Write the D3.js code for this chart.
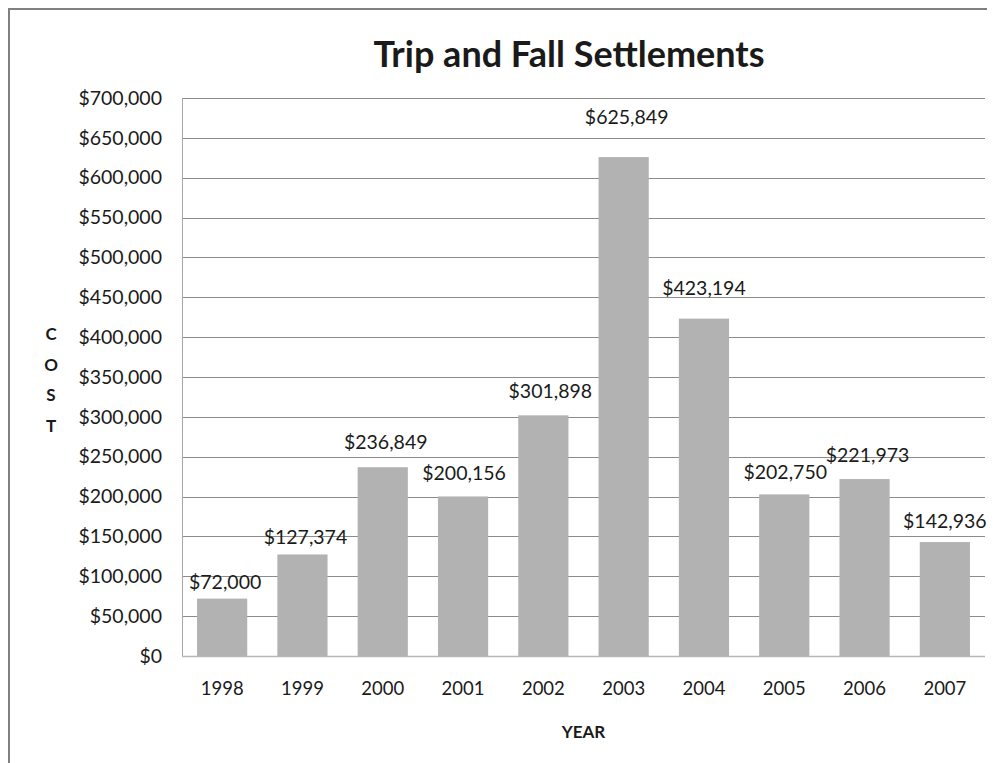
<!DOCTYPE html>
<html>
<head>
<meta charset="utf-8">
<script src="https://cdn.jsdelivr.net/npm/d3@7"></script>
<style>
  body { margin: 0; background: #fff; }
  svg text { font-family: Lato, "Open Sans", sans-serif; fill: #1a1a1a; }
</style>
</head>
<body>
<svg id="chart"></svg>
<script>
// Data
const years = ["1998", "1999", "2000", "2001", "2002", "2003", "2004", "2005", "2006", "2007"];
const costs = [72000, 127374, 236849, 200156, 301898, 625849, 423194, 202750, 221973, 142936];
const yTicks = [0, 50000, 100000, 150000, 200000, 250000, 300000, 350000, 400000, 450000, 500000, 550000, 600000, 650000, 700000];

// label placement tweaks (pixels above bar top / sideways), as in the original
const labelLift = [10, 10, 18, 16, 17, 33, 24, 15, 17, 14];
const labelShift = [3, 3, 3, 1, 7, 3, 0, 1, 3, 0];

const width = 995, height = 763;
const plot = { left: 182, right: 985, top: 98, bottom: 656 };

const svg = d3.select("#chart")
    .attr("width", width)
    .attr("height", height);

// outer chart frame (only top and left edges show)
svg.append("path")
    .attr("d", `M9,${height} L9,9 L987,9`)
    .attr("fill", "none")
    .attr("stroke", "#808080")
    .attr("stroke-width", 2);

const x = d3.scaleBand()
    .domain(years)
    .range([plot.left, plot.right])
    .paddingInner(0.375)
    .paddingOuter(0.1875);

const y = d3.scaleLinear()
    .domain([0, 700000])
    .range([plot.bottom, plot.top]);

// gridlines
svg.append("g")
    .selectAll("line")
    .data(yTicks.filter(d => d > 0))
    .join("line")
    .attr("x1", plot.left)
    .attr("x2", plot.right)
    .attr("y1", d => Math.round(y(d)) + 0.5)
    .attr("y2", d => Math.round(y(d)) + 0.5)
    .attr("stroke", "#8c8c8c")
    .attr("stroke-width", 1);

// bars
svg.append("g")
    .selectAll("rect")
    .data(costs)
    .join("rect")
    .attr("x", (d, i) => x(years[i]))
    .attr("y", d => y(d))
    .attr("width", x.bandwidth())
    .attr("height", d => y(0) - y(d))
    .attr("fill", "#b2b2b2");

// axes lines
svg.append("line")
    .attr("x1", plot.left + 0.5).attr("x2", plot.left + 0.5)
    .attr("y1", plot.top).attr("y2", plot.bottom)
    .attr("stroke", "#a6a6a6");
svg.append("line")
    .attr("x1", plot.left).attr("x2", plot.right)
    .attr("y1", plot.bottom + 0.5).attr("y2", plot.bottom + 0.5)
    .attr("stroke", "#b8b8b8")
    .attr("stroke-width", 1.5);

// y axis labels
const yAxis = svg.append("g")
    .attr("transform", `translate(${plot.left},0)`)
    .call(d3.axisLeft(y).tickValues(yTicks).tickFormat(d3.format("$,")).tickSize(0).tickPadding(20));
yAxis.select(".domain").remove();
yAxis.selectAll("text")
    .attr("font-family", "Lato, sans-serif")
    .attr("font-size", 19.5)
    .attr("fill", "#1a1a1a");

// x axis labels
const xAxis = svg.append("g")
    .attr("transform", `translate(0,${plot.bottom})`)
    .call(d3.axisBottom(x).tickSize(0).tickPadding(26));
xAxis.select(".domain").remove();
xAxis.selectAll("text")
    .attr("font-family", "Lato, sans-serif")
    .attr("font-size", 18.5)
    .attr("fill", "#1a1a1a");

// value labels
svg.append("g")
    .selectAll("text")
    .data(costs)
    .join("text")
    .attr("x", (d, i) => x(years[i]) + x.bandwidth() / 2 + labelShift[i])
    .attr("y", (d, i) => y(d) - labelLift[i])
    .attr("text-anchor", "middle")
    .attr("font-size", 19.5)
    .text(d => d3.format("$,")(d));

// title
svg.append("text")
    .attr("x", 569)
    .attr("y", 67)
    .attr("text-anchor", "middle")
    .attr("font-size", 36)
    .attr("font-weight", "bold")
    .text("Trip and Fall Settlements");

// axis titles
svg.append("text")
    .attr("x", (plot.left + plot.right) / 2)
    .attr("y", 738)
    .attr("text-anchor", "middle")
    .attr("font-size", 17)
    .attr("font-weight", "bold")
    .text("YEAR");

svg.append("g")
    .selectAll("text")
    .data("COST".split(""))
    .join("text")
    .attr("x", 51)
    .attr("y", (d, i) => 340 + i * 30.7)
    .attr("text-anchor", "middle")
    .attr("font-size", 17)
    .attr("font-weight", "bold")
    .text(d => d);
</script>
</body>
</html>
